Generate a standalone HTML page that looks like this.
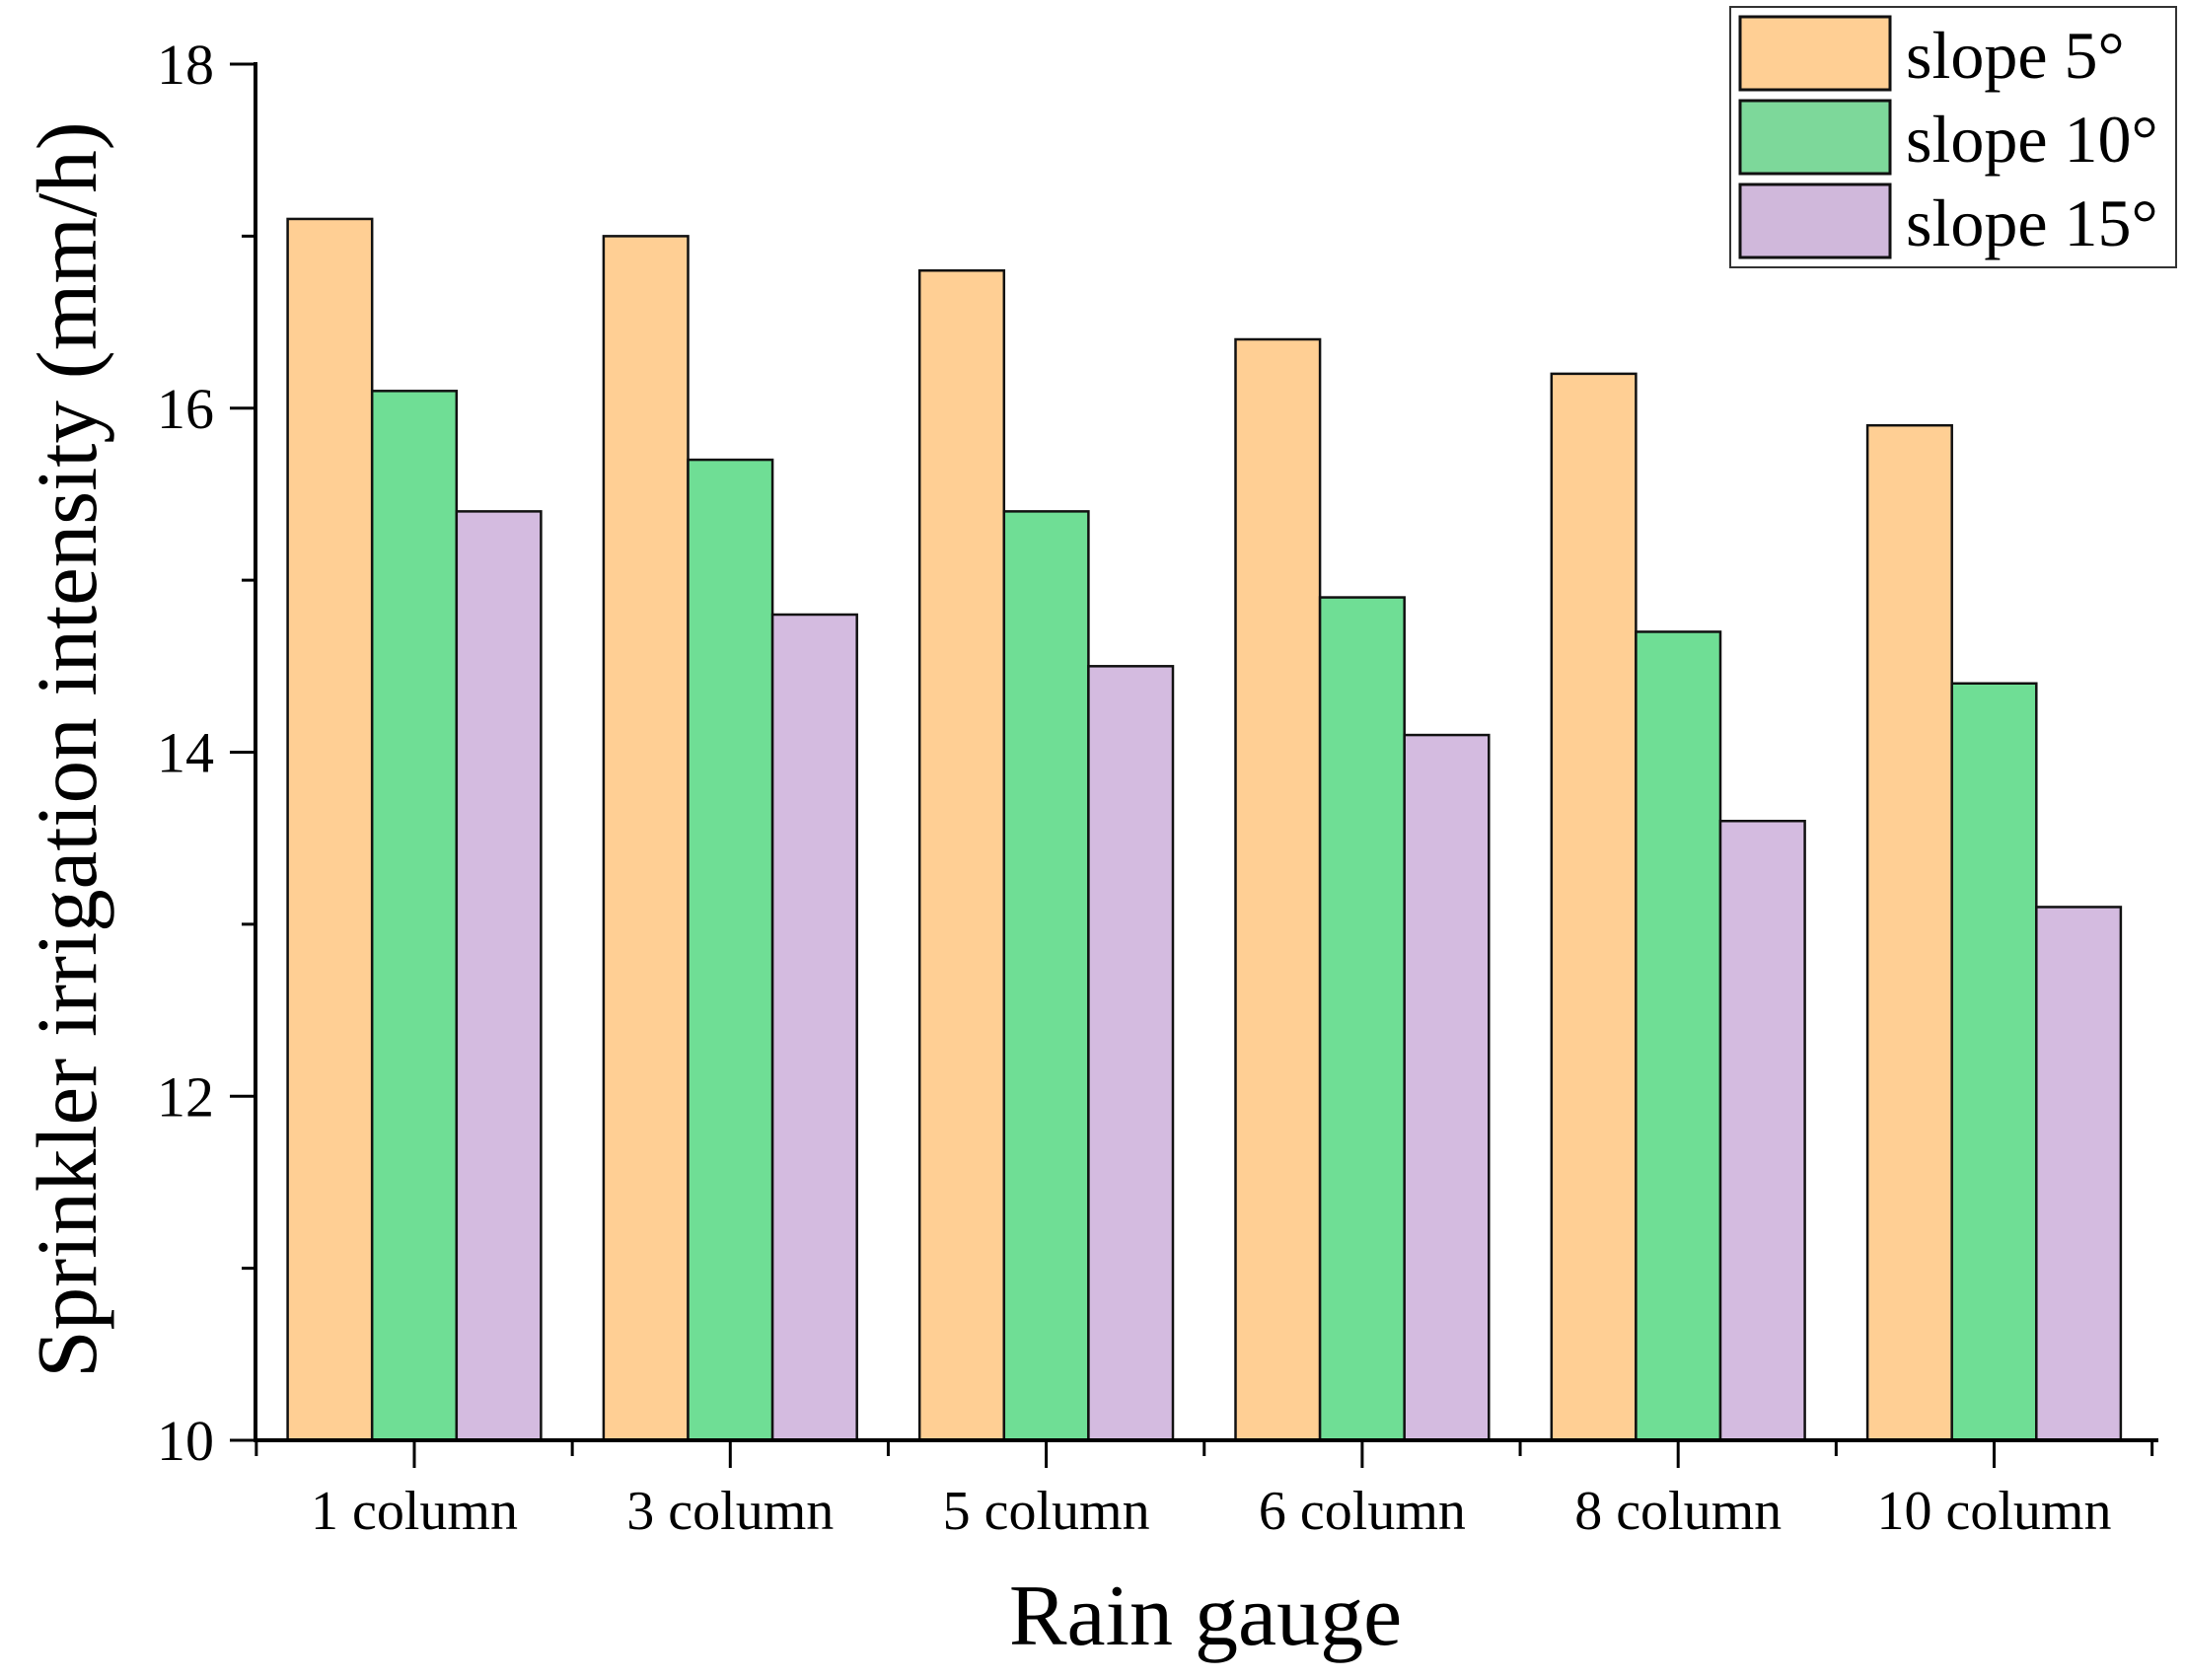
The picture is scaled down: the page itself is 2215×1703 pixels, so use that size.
<!DOCTYPE html>
<html><head><meta charset="utf-8"><style>
html,body{margin:0;padding:0;background:#fff;}
svg{display:block;font-family:"Liberation Serif",serif;}
</style></head><body>
<svg id="chart" width="2215" height="1703" viewBox="0 0 2215 1703">
<g id="bars"></g>
<g id="axes"></g>
<text x="1222" y="1667" font-size="88" text-anchor="middle">Rain gauge</text>
<text transform="translate(97,760) rotate(-90)" font-size="87" text-anchor="middle">Sprinkler irrigation intensity (mm/h)</text>
<g>
<rect x="1754" y="7" width="452" height="264" fill="#fff" stroke="#333" stroke-width="2"/>
<g>
<rect x="1764" y="17" width="152" height="74" fill="#FFCF94" stroke="#111" stroke-width="3"/>
<text x="1932" y="79" font-size="68">slope 5°</text></g>
<g>
<rect x="1764" y="102" width="152" height="74" fill="#7DD89A" stroke="#111" stroke-width="3"/>
<text x="1932" y="164" font-size="68">slope 10°</text></g>
<g>
<rect x="1764" y="187" width="152" height="74" fill="#D0B8DB" stroke="#111" stroke-width="3"/>
<text x="1932" y="249" font-size="68">slope 15°</text></g>
</g>
</svg>
<script>
const categories = ["1 column","3 column","5 column","6 column","8 column","10 column"];
const slope5 = [17.1,17.0,16.8,16.4,16.2,15.9];
const slope10 = [16.1,15.7,15.4,14.9,14.7,14.4];
const slope15 = [15.4,14.8,14.5,14.1,13.6,13.1];
const yTicks = [10,12,14,16,18];
const yMinor = [11,13,15,17];

const NS="http://www.w3.org/2000/svg";
const X0=259, X1=2188, Y0=1460, Y1=65, ymin=10, ymax=18;
const step=320.3, first=420, bw=85.6;
function yS(v){return Y0-(v-ymin)/(ymax-ymin)*(Y0-Y1);}
function xS(i){return first+i*step;}
function mk(tag,attrs,parent){const e=document.createElementNS(NS,tag);for(const k in attrs)e.setAttribute(k,attrs[k]);parent.appendChild(e);return e;}
const bars=document.getElementById('bars'), axes=document.getElementById('axes');
const series=[[slope5,"#FFCF94","slope-5"],[slope10,"#6FDE95","slope-10"],[slope15,"#D4BBE0","slope-15"]];
categories.forEach((c,i)=>{
  series.forEach((s,j)=>{
    const x=xS(i)-1.5*bw+j*bw, y=yS(s[0][i]);
    const r=mk('rect',{x:x,y:y,width:bw,height:Y0-y,fill:s[1],stroke:"#111","stroke-width":2.5},bars);
    
    
  });
  const t=mk('line',{x1:xS(i),x2:xS(i),y1:Y0,y2:Y0+28,stroke:"#000","stroke-width":3},axes);
  
  
  const l=mk('text',{x:xS(i),y:Y0+90,"font-size":56,"text-anchor":"middle"},axes);
  l.textContent=c;
  
  
});
for(let i=0;i<=categories.length;i++){
  const x=xS(i)-step/2;
  const t=mk('line',{x1:x,x2:x,y1:Y0,y2:Y0+16,stroke:"#000","stroke-width":3},axes);
  
  
}
yTicks.forEach(v=>{
  const t=mk('line',{x1:X0-26,x2:X0,y1:yS(v),y2:yS(v),stroke:"#000","stroke-width":3},axes);
  
  
  const l=mk('text',{x:X0-42,y:yS(v)+20,"font-size":58,"text-anchor":"end"},axes);
  l.textContent=v;
  
  
});
yMinor.forEach(v=>{
  const t=mk('line',{x1:X0-14,x2:X0,y1:yS(v),y2:yS(v),stroke:"#000","stroke-width":3},axes);
  
  
});
const ya=mk('line',{x1:X0,x2:X0,y1:Y1-2,y2:Y0+2,stroke:"#000","stroke-width":4},axes);


const xa=mk('line',{x1:X0-2,x2:X1,y1:Y0,y2:Y0,stroke:"#000","stroke-width":4},axes);


</script>
</body></html>
